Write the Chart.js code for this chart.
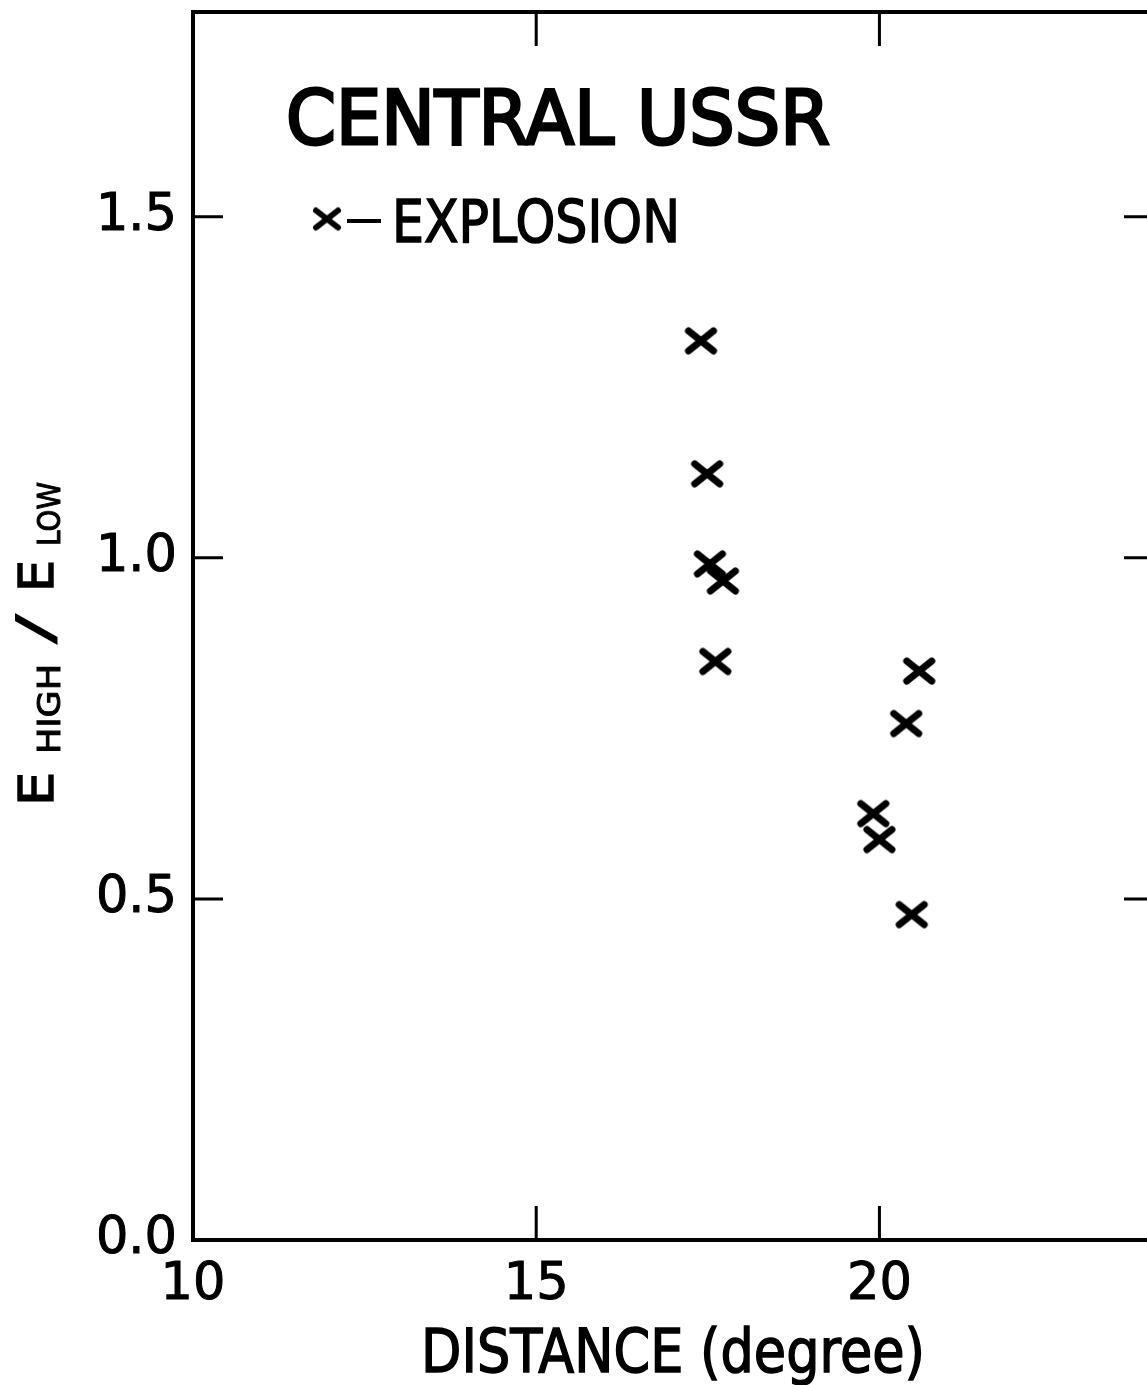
<!DOCTYPE html>
<html>
<head>
<meta charset="utf-8">
<script src="https://cdn.jsdelivr.net/npm/chart.js@4/dist/chart.umd.min.js"></script>
<style>
  html, body { margin: 0; padding: 0; background: #fff; overflow: hidden; }
  canvas { display: block; }
</style>
</head>
<body>
<canvas id="myChart" width="1160" height="1385"></canvas>
<script>
// explosion events
const distance = [17.40, 17.49, 17.53, 17.72, 17.61, 20.58, 20.39, 19.91, 20.00, 20.47];
const ratio    = [1.318, 1.123, 0.991, 0.966, 0.848, 0.834, 0.757, 0.625, 0.587, 0.477];

const xMin = 10, xMax = 24, xStep = 5;
const yMin = 0, yMax = 1.8, yStep = 0.5;

const FONT = "'DejaVu Sans', sans-serif";

// hand-lettered X marker
function makeCross(w, h, lw) {
    const c = document.createElement('canvas');
    c.width = w + lw * 2;
    c.height = h + lw * 2;
    const g = c.getContext('2d');
    g.strokeStyle = '#000';
    g.lineWidth = lw;
    g.lineCap = 'round';
    g.beginPath();
    g.moveTo(lw, lw); g.lineTo(lw + w, lw + h);
    g.moveTo(lw + w, lw); g.lineTo(lw, lw + h);
    g.stroke();
    return c;
}
const cross = makeCross(25, 20, 7);
const smallCross = makeCross(22, 17, 6);

// draw text stretched/squeezed to a given width
function fitText(g, text, x, y, width, size, weight) {
    g.save();
    g.font = size + 'px ' + FONT;
    const w = g.measureText(text).width;
    g.translate(x, y);
    g.scale(width / w, 1);
    g.fillText(text, 0, 0);
    if (weight) {
        g.lineWidth = weight;
        g.strokeText(text, 0, 0);
    }
    g.restore();
}

// no extra room for half labels at the ends of the axes
function noPad(scale) {
    scale.paddingTop = 0;
    scale.paddingBottom = 0;
    scale.paddingLeft = 0;
    scale.paddingRight = 0;
}

const frame = {
    id: 'frame',
    afterDraw(chart) {
        const g = chart.ctx;
        const a = chart.chartArea;
        const xs = chart.scales.x, ys = chart.scales.y;
        g.save();
        g.strokeStyle = '#000';
        g.fillStyle = '#000';
        g.lineWidth = 4;
        g.strokeRect(a.left, a.top, a.right - a.left, a.bottom - a.top);

        // inward ticks on all four sides
        g.lineWidth = 3;
        g.beginPath();
        xs.ticks.forEach(t => {
            if (t.value <= xMin || t.value >= xMax) return;
            const px = xs.getPixelForValue(t.value);
            g.moveTo(px, a.bottom); g.lineTo(px, a.bottom - 34);
            g.moveTo(px, a.top); g.lineTo(px, a.top + 34);
        });
        ys.ticks.forEach(t => {
            if (t.value <= yMin || t.value >= yMax) return;
            const py = ys.getPixelForValue(t.value);
            g.moveTo(a.left, py); g.lineTo(a.left + 30, py);
            g.moveTo(a.right, py); g.lineTo(a.right - 30, py);
        });
        g.stroke();

        // title + legend
        g.textBaseline = 'alphabetic';
        fitText(g, 'CENTRAL USSR', 286, 144, 544, 75, 3);
        g.drawImage(smallCross, 327 - smallCross.width / 2, 219 - smallCross.height / 2);
        g.lineWidth = 4;
        g.beginPath();
        g.moveTo(347, 221); g.lineTo(381, 221);
        g.stroke();
        fitText(g, 'EXPLOSION', 392, 242, 288, 58, 1.5);

        // x axis title
        fitText(g, 'DISTANCE (degree)', 421, 1372, 504, 60, 1.5);

        // y axis title, rotated, with subscripts
        g.translate(53, 0);
        g.rotate(-Math.PI / 2);
        fitText(g, 'E', -806, 0, 34, 48, 1.5);
        fitText(g, 'HIGH', -754, 7, 90, 32, 1);
        fitText(g, '/', -645, 0, 32, 52, 0);
        fitText(g, 'E', -592, 0, 32, 48, 1.5);
        fitText(g, 'LOW', -546, 7, 64, 32, 1);
        g.restore();
    }
};

const tickFont = { family: FONT, size: 51 };

new Chart(document.getElementById('myChart'), {
    type: 'scatter',
    data: {
        datasets: [{
            label: 'EXPLOSION',
            data: distance.map((d, i) => ({ x: d, y: ratio[i] })),
            pointStyle: cross,
            pointRadius: 14,
            borderColor: '#000',
            backgroundColor: '#000'
        }]
    },
    options: {
        responsive: false,
        animation: false,
        devicePixelRatio: 1,
        // the right frame edge sits just past the picture's edge (canvas is wider than the window)
        layout: { autoPadding: false, padding: { top: 12, right: 6, left: 0, bottom: 0 } },
        scales: {
            x: {
                type: 'linear',
                min: xMin,
                max: xMax,
                afterFit(scale) { scale.height = 145; noPad(scale); },
                grid: { display: false, drawTicks: false },
                border: { display: false },
                ticks: {
                    stepSize: xStep,
                    includeBounds: false,
                    padding: 15,
                    color: '#000',
                    textStrokeColor: '#000',
                    textStrokeWidth: 1,
                    font: tickFont,
                    callback: v => String(v)
                }
            },
            y: {
                type: 'linear',
                min: yMin,
                max: yMax,
                afterFit(scale) { scale.width = 193; noPad(scale); },
                grid: { display: false, drawTicks: false },
                border: { display: false },
                ticks: {
                    stepSize: yStep,
                    includeBounds: false,
                    padding: 16,
                    color: '#000',
                    textStrokeColor: '#000',
                    textStrokeWidth: 1,
                    font: tickFont,
                    callback: v => v.toFixed(1)
                }
            }
        },
        plugins: {
            legend: { display: false },
            tooltip: { enabled: false }
        }
    },
    plugins: [frame]
});
</script>
</body>
</html>
